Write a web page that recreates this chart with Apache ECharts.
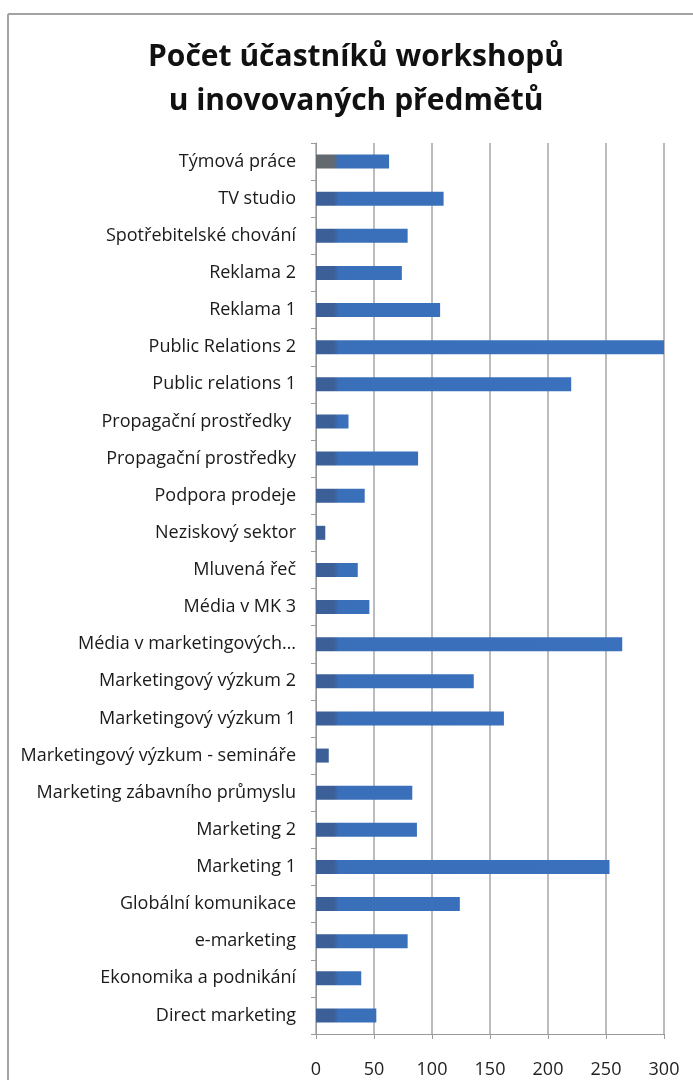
<!DOCTYPE html>
<html>
<head>
<meta charset="utf-8">
<script src="https://cdn.jsdelivr.net/npm/echarts@6/dist/echarts.min.js"></script>
<style>
  html, body { margin: 0; padding: 0; background: #ffffff; }
  #chart { width: 693px; height: 1080px; }
</style>
</head>
<body>
<div id="chart"></div>
<script>
// Courses, listed top to bottom
const courses = [
  'Týmová práce',
  'TV studio',
  'Spotřebitelské chování',
  'Reklama 2',
  'Reklama 1',
  'Public Relations 2',
  'Public relations 1',
  'Propagační prostředky ',
  'Propagační prostředky',
  'Podpora prodeje',
  'Neziskový sektor',
  'Mluvená řeč',
  'Média v MK 3',
  'Média v marketingových…',
  'Marketingový výzkum 2',
  'Marketingový výzkum 1',
  'Marketingový výzkum - semináře',
  'Marketing zábavního průmyslu',
  'Marketing 2',
  'Marketing 1',
  'Globální komunikace',
  'e-marketing',
  'Ekonomika a podnikání',
  'Direct marketing'
];

// Number of workshop participants per course
const participants = [
  63, 110, 79, 74, 107, 300, 220, 28, 88, 42, 8, 36,
  46, 264, 136, 162, 11, 83, 87, 253, 124, 79, 39, 52
];

const titleText = 'Počet účastníků workshopů\nu inovovaných předmětů';

const chart = echarts.init(document.getElementById('chart'), null, { renderer: 'canvas' });

const plotLeft = 316, plotRight = 664;

// Bars carry a darker band at their base, as in a shaded column style
function barFill(base) {
  return {
    type: 'linear', global: true,
    x: plotLeft, y: 0, x2: plotRight, y2: 0,
    colorStops: [
      { offset: 0, color: base },
      { offset: 0.05, color: base },
      { offset: 0.065, color: '#3a6fba' },
      { offset: 1, color: '#3a71bd' }
    ]
  };
}

const barData = participants.map((v, i) => ({
  value: v,
  itemStyle: { color: barFill(i === 0 ? '#626a70' : '#3b5f96') }
}));

chart.setOption({
  backgroundColor: '#ffffff',
  animation: false,
  title: {
    text: titleText,
    left: 351,
    textAlign: 'center',
    top: 30,
    textStyle: {
      fontFamily: 'Open Sans',
      fontWeight: 'bold',
      fontSize: 30,
      lineHeight: 44,
      color: '#111111'
    }
  },
  graphic: [
    { type: 'line', shape: { x1: 8, y1: 14, x2: 693, y2: 14 }, style: { stroke: '#a3a3a3', lineWidth: 2 } },
    { type: 'line', shape: { x1: 8, y1: 14, x2: 8, y2: 1080 }, style: { stroke: '#a3a3a3', lineWidth: 2 } }
  ],
  grid: {
    left: plotLeft,
    right: 693 - plotRight,
    top: 143,
    bottom: 46,
    containLabel: false
  },
  xAxis: {
    type: 'value',
    min: 0,
    max: 300,
    interval: 50,
    axisLine: { show: true, lineStyle: { color: '#9a9a9a', width: 1 } },
    axisTick: { show: true, length: 5, lineStyle: { color: '#9a9a9a' } },
    splitLine: { show: true, lineStyle: { color: '#a6a6a6', width: 1.5 } },
    axisLabel: {
      margin: 27,
      fontFamily: 'Open Sans',
      fontSize: 18,
      color: '#222222'
    }
  },
  yAxis: {
    type: 'category',
    inverse: true,
    data: courses,
    axisLine: { show: true, lineStyle: { color: '#9a9a9a', width: 1 } },
    axisTick: { show: true, length: 5, lineStyle: { color: '#9a9a9a' } },
    axisLabel: {
      margin: 20,
      fontFamily: 'Open Sans',
      fontSize: 18,
      color: '#1a1a1a'
    }
  },
  series: [{
    type: 'bar',
    data: barData,
    barWidth: 14
  }]
});
</script>
</body>
</html>
